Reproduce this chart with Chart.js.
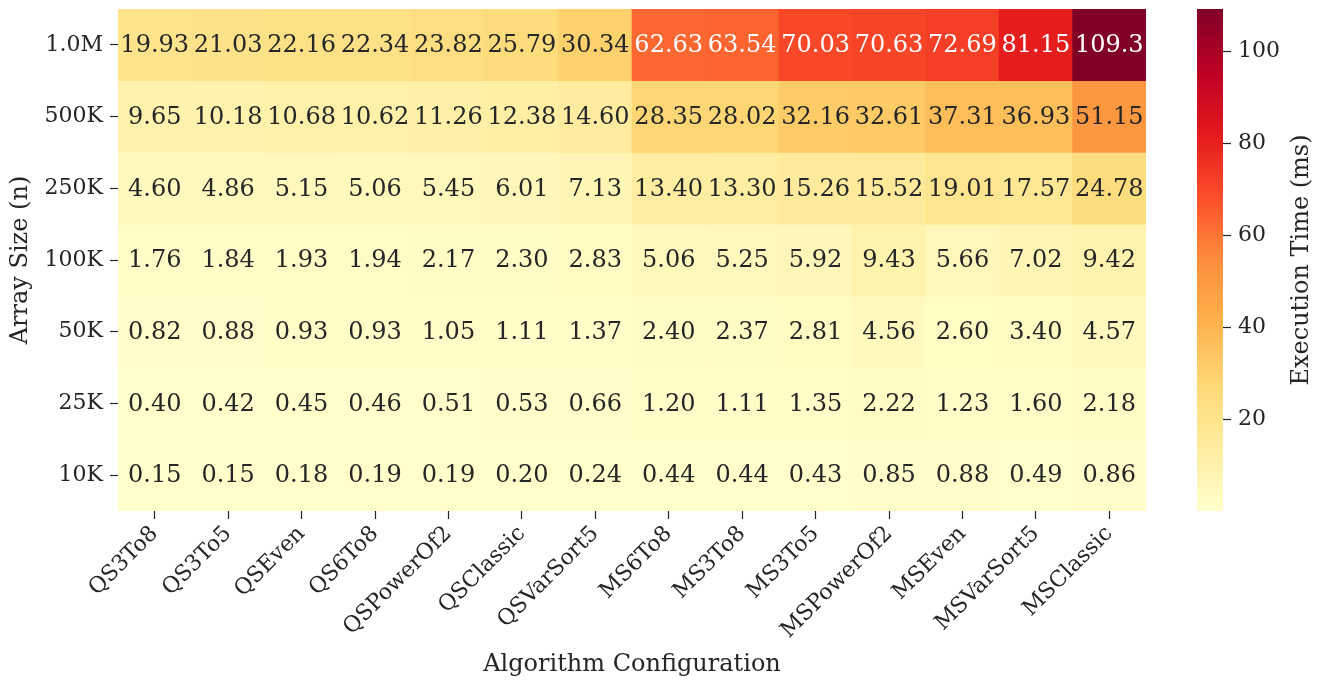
<!DOCTYPE html>
<html>
<head>
<meta charset="utf-8">
<script src="https://cdn.jsdelivr.net/npm/chart.js@4.4.1/dist/chart.umd.min.js"></script>
<style>
  html, body { margin: 0; padding: 0; background: #ffffff; }
  #wrap { position: relative; width: 1326px; height: 681px; overflow: hidden; }
  #main { position: absolute; left: 0; top: 0; }
  #cbar { position: absolute; left: 1197px; top: 0; }
</style>
</head>
<body>
<div id="wrap">
  <canvas id="main" width="1326" height="681"></canvas>
  <canvas id="cbar" width="129" height="681"></canvas>
</div>
<script>
// ---------- DATA ----------
const algorithms = ['QS3To8','QS3To5','QSEven','QS6To8','QSPowerOf2','QSClassic','QSVarSort5',
                    'MS6To8','MS3To8','MS3To5','MSPowerOf2','MSEven','MSVarSort5','MSClassic'];
const sizeLabels = ['1.0M','500K','250K','100K','50K','25K','10K'];

const time1M   = [19.93, 21.03, 22.16, 22.34, 23.82, 25.79, 30.34, 62.63, 63.54, 70.03, 70.63, 72.69, 81.15, 109.3];
const time500K = [9.65, 10.18, 10.68, 10.62, 11.26, 12.38, 14.60, 28.35, 28.02, 32.16, 32.61, 37.31, 36.93, 51.15];
const time250K = [4.60, 4.86, 5.15, 5.06, 5.45, 6.01, 7.13, 13.40, 13.30, 15.26, 15.52, 19.01, 17.57, 24.78];
const time100K = [1.76, 1.84, 1.93, 1.94, 2.17, 2.30, 2.83, 5.06, 5.25, 5.92, 9.43, 5.66, 7.02, 9.42];
const time50K  = [0.82, 0.88, 0.93, 0.93, 1.05, 1.11, 1.37, 2.40, 2.37, 2.81, 4.56, 2.60, 3.40, 4.57];
const time25K  = [0.40, 0.42, 0.45, 0.46, 0.51, 0.53, 0.66, 1.20, 1.11, 1.35, 2.22, 1.23, 1.60, 2.18];
const time10K  = [0.15, 0.15, 0.18, 0.19, 0.19, 0.20, 0.24, 0.44, 0.44, 0.43, 0.85, 0.88, 0.49, 0.86];

const colorbarTicks = [20, 40, 60, 80, 100];

const rowsData = [time1M, time500K, time250K, time100K, time50K, time25K, time10K];

// ---------- COLOUR MAP (YlOrRd) ----------
const ylOrRd = ['#ffffcc','#ffeda0','#fed976','#feb24c','#fd8d3c','#fc4e2a','#e31a1c','#bd0026','#800026'];
const allVals = rowsData.flat();
const vmin = Math.min(...allVals);
const vmax = Math.max(...allVals);

function hexToRgb(h) { return [parseInt(h.slice(1,3),16), parseInt(h.slice(3,5),16), parseInt(h.slice(5,7),16)]; }
const stopsRgb = ylOrRd.map(hexToRgb);
function cmapRgb(v) {
  let t = (v - vmin) / (vmax - vmin);
  t = Math.max(0, Math.min(1, t));
  const p = t * (stopsRgb.length - 1);
  const i = Math.min(Math.floor(p), stopsRgb.length - 2);
  const f = p - i;
  return stopsRgb[i].map((c, k) => Math.round(c + (stopsRgb[i+1][k] - c) * f));
}
function cmap(v) { const c = cmapRgb(v); return `rgb(${c[0]},${c[1]},${c[2]})`; }
function luminance(rgb) {
  const l = rgb.map(c => { c /= 255; return c <= 0.03928 ? c / 12.92 : Math.pow((c + 0.055) / 1.055, 2.4); });
  return 0.2126 * l[0] + 0.7152 * l[1] + 0.0722 * l[2];
}
function fmt(v) { return v >= 100 ? v.toFixed(1) : v.toFixed(2); }

const FONT = "'DejaVu Serif', 'Liberation Serif', serif";
const TXT = '#262626';

// ---------- ANNOTATION PLUGIN ----------
const annotate = {
  id: 'annotate',
  afterDatasetsDraw(chart) {
    const ctx = chart.ctx;
    ctx.save();
    ctx.font = `24px ${FONT}`;
    ctx.textAlign = 'center';
    ctx.textBaseline = 'middle';
    chart.data.datasets.forEach((ds, i) => {
      const meta = chart.getDatasetMeta(i);
      const vals = rowsData[i];
      meta.data.forEach((bar, j) => {
        const p = bar.getProps(['x', 'y', 'base'], true);
        const cy = (p.y + p.base) / 2;
        const lum = luminance(cmapRgb(vals[j]));
        ctx.fillStyle = lum > 0.408 ? TXT : '#ffffff';
        ctx.fillText(fmt(vals[j]), p.x, cy + 1);
      });
    });
    ctx.restore();
  }
};

// ---------- MAIN HEATMAP ----------
new Chart(document.getElementById('main'), {
  type: 'bar',
  data: {
    labels: algorithms,
    datasets: rowsData.map((vals, i) => ({
      label: sizeLabels[i],
      data: vals.map(() => [i - 0.5, i + 0.5]),
      backgroundColor: vals.map(cmap),
      borderWidth: 0,
      grouped: false,
      barPercentage: 1,
      categoryPercentage: 1
    }))
  },
  options: {
    responsive: false,
    animation: false,
    layout: { padding: { left: 0, top: 9, right: 180, bottom: 0 } },
    plugins: { legend: { display: false }, tooltip: { enabled: false } },
    scales: {
      x: {
        type: 'category',
        grid: { display: true, drawOnChartArea: false, drawTicks: true, tickLength: 8, tickWidth: 1.2, tickColor: TXT, offset: false },
        border: { display: false },
        ticks: { font: { family: FONT, size: 22 }, color: TXT, minRotation: 45, maxRotation: 45, autoSkip: false, padding: 2 },
        title: { display: true, text: 'Algorithm Configuration', color: TXT, font: { family: FONT, size: 24 }, padding: { top: 0, bottom: 2 } },
        afterFit: s => { s.height = 170; s.paddingLeft = 0; s.paddingRight = 0; }
      },
      y: {
        type: 'linear',
        min: -0.5,
        max: 6.5,
        reverse: true,
        afterBuildTicks: s => { s.ticks = sizeLabels.map((_, i) => ({ value: i })); },
        grid: { display: true, drawOnChartArea: false, drawTicks: true, tickLength: 8, tickWidth: 1.2, tickColor: TXT },
        border: { display: false },
        ticks: { font: { family: FONT, size: 22 }, color: TXT, padding: 7,
                 callback: v => (sizeLabels[v] !== undefined) ? sizeLabels[v] : '' },
        title: { display: true, text: 'Array Size (n)', color: TXT, font: { family: FONT, size: 24 }, padding: { top: 6, bottom: 0 } },
        afterFit: s => { s.width = 118; s.paddingTop = 0; s.paddingBottom = 0; }
      }
    }
  },
  plugins: [annotate]
});

// ---------- COLOURBAR ----------
const cbTitle = {
  id: 'cbTitle',
  afterDraw(chart) {
    const ctx = chart.ctx;
    const a = chart.chartArea;
    ctx.save();
    ctx.translate(105, (a.top + a.bottom) / 2);
    ctx.rotate(-Math.PI / 2);
    ctx.font = `24px ${FONT}`;
    ctx.fillStyle = TXT;
    ctx.textAlign = 'center';
    ctx.textBaseline = 'middle';
    ctx.fillText('Execution Time (ms)', 0, 0);
    ctx.restore();
  }
};

new Chart(document.getElementById('cbar'), {
  type: 'bar',
  data: {
    labels: [''],
    datasets: [{
      data: [[vmin, vmax]],
      backgroundColor: (c) => {
        const a = c.chart.chartArea;
        if (!a) return ylOrRd[0];
        const g = c.chart.ctx.createLinearGradient(0, a.bottom, 0, a.top);
        ylOrRd.forEach((col, k) => g.addColorStop(k / (ylOrRd.length - 1), col));
        return g;
      },
      borderWidth: 0,
      barPercentage: 1,
      categoryPercentage: 1
    }]
  },
  options: {
    responsive: false,
    animation: false,
    layout: { padding: { left: 0, top: 9, right: 0, bottom: 170 } },
    plugins: { legend: { display: false }, tooltip: { enabled: false } },
    scales: {
      x: { display: false },
      y: {
        position: 'right',
        min: vmin,
        max: vmax,
        afterBuildTicks: s => { s.ticks = colorbarTicks.map(v => ({ value: v })); },
        grid: { display: true, drawOnChartArea: false, drawTicks: true, tickLength: 8, tickWidth: 1.2, tickColor: TXT },
        border: { display: false },
        ticks: { font: { family: FONT, size: 22 }, color: TXT, padding: 7 },
        afterFit: s => { s.width = 103; s.paddingTop = 0; s.paddingBottom = 0; }
      }
    }
  },
  plugins: [cbTitle]
});
</script>
</body>
</html>
